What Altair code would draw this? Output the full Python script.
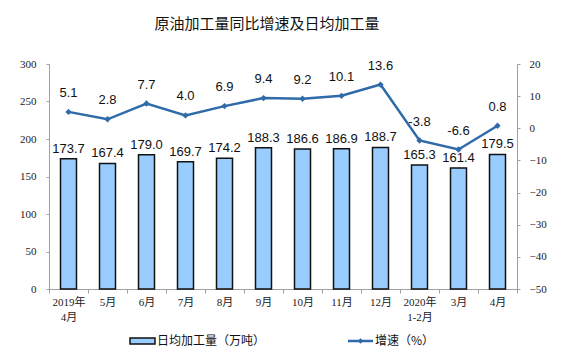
import altair as alt
import pandas as pd

months = ["2019年\n4月", "5月", "6月", "7月", "8月", "9月", "10月", "11月", "12月", "2020年\n1-2月", "3月", "4月"]
daily_output = [173.7, 167.4, 179.0, 169.7, 174.2, 188.3, 186.6, 186.9, 188.7, 165.3, 161.4, 179.5]
growth = [5.1, 2.8, 7.7, 4.0, 6.9, 9.4, 9.2, 10.1, 13.6, -3.8, -6.6, 0.8]
left_ticks = [0, 50, 100, 150, 200, 250, 300]
right_ticks = [-50, -40, -30, -20, -10, 0, 10, 20]

df = pd.DataFrame({"month": months, "output": daily_output, "growth": growth})
df["output_label"] = df["output"].map(lambda v: f"{v:.1f}")
df["growth_label"] = df["growth"].map(lambda v: f"{v:.1f}")

BAR_FILL = "#99CCFF"
LINE_COLOR = "#2F6BA8"
SERIF = "Liberation Serif, Noto Sans CJK SC"
SANS = "Liberation Sans, Noto Sans CJK SC"
CJK = "Noto Sans CJK SC"

x = alt.X("month:N", sort=months, title=None,
          scale=alt.Scale(paddingInner=0, paddingOuter=0),
          axis=alt.Axis(labelAngle=0, labelExpr="split(datum.label, '\\n')",
                        labelFont=SERIF, labelFontSize=11, labelColor="#222",
                        domainColor="#A0A0A0", tickColor="#A0A0A0", tickBand="extent",
                        tickSize=4, labelPadding=3, labelLineHeight=15))

y_left = alt.Y("output:Q", title=None,
               scale=alt.Scale(domain=[0, 300], nice=False),
               axis=alt.Axis(values=left_ticks, grid=False,
                             labelOverlap=False, labelFlush=False,
                             labelFont=SERIF, labelFontSize=11, labelColor="#222",
                             domainColor="#A0A0A0", tickColor="#A0A0A0", tickSize=3,
                             labelPadding=10))
y_right = alt.Y("growth:Q", title=None,
                scale=alt.Scale(domain=[-50, 20], nice=False),
                axis=alt.Axis(orient="right", values=right_ticks, grid=False,
                              labelOverlap=False, labelFlush=False,
                              labelFont=SERIF, labelFontSize=11, labelColor="#222",
                              domainColor="#A0A0A0", tickColor="#A0A0A0", tickSize=3,
                              labelPadding=9))

left_base = alt.Chart(df).encode(x=x, y=y_left)
bars = left_base.mark_bar(size=16, fill=BAR_FILL, stroke="#111", strokeWidth=1.5)
bar_text = left_base.mark_text(baseline="bottom", dy=-3, font=SANS, fontSize=13, color="#111").encode(
    text="output_label:N"
)

title = alt.Chart(pd.DataFrame({"t": ["原油加工量同比增速及日均加工量"]})).mark_text(
    font=CJK, fontSize=15, color="#111", baseline="middle", align="center"
).encode(x=alt.value(218), y=alt.value(-40), text="t:N")

leg_bar = alt.Chart(pd.DataFrame({"a": [0]})).mark_rect(
    fill=BAR_FILL, stroke="#111", strokeWidth=1.5
).encode(x=alt.value(81), x2=alt.value(106), y=alt.value(274), y2=alt.value(280))
leg_bar_text = alt.Chart(pd.DataFrame({"t": ["日均加工量（万吨）"]})).mark_text(
    font=CJK, fontSize=12, color="#111", align="left", baseline="middle"
).encode(x=alt.value(108), y=alt.value(277), text="t:N")

left = alt.layer(bars, bar_text, title, leg_bar, leg_bar_text)

right_base = alt.Chart(df).encode(x=x, y=y_right)
line = right_base.mark_line(color=LINE_COLOR, strokeWidth=2.5)
points = right_base.mark_point(shape="diamond", filled=True, size=40, color=LINE_COLOR, opacity=1)
line_text = right_base.mark_text(baseline="bottom", dy=-12, font=SANS, fontSize=13, color="#111").encode(
    text="growth_label:N"
)

leg_line = alt.Chart(pd.DataFrame({"a": [0]})).mark_rule(color=LINE_COLOR, strokeWidth=2.5).encode(
    x=alt.value(299), x2=alt.value(324), y=alt.value(277)
)
leg_pt = alt.Chart(pd.DataFrame({"a": [0]})).mark_point(
    shape="diamond", filled=True, size=30, color=LINE_COLOR, opacity=1
).encode(x=alt.value(311.5), y=alt.value(277))
leg_line_text = alt.Chart(pd.DataFrame({"t": ["增速（%）"]})).mark_text(
    font=CJK, fontSize=12, color="#111", align="left", baseline="middle"
).encode(x=alt.value(326), y=alt.value(277), text="t:N")

right = alt.layer(line, points, line_text, leg_line, leg_pt, leg_line_text)

chart = alt.layer(left, right).resolve_scale(y="independent").properties(
    width=468, height=225,
    autosize=alt.AutoSizeParams(type="none"),
    padding={"left": 41, "top": 56, "right": 36, "bottom": 61},
    background="white",
).configure_view(stroke=None)

chart.save("out.html", embed_options={"renderer": "svg", "actions": False})
